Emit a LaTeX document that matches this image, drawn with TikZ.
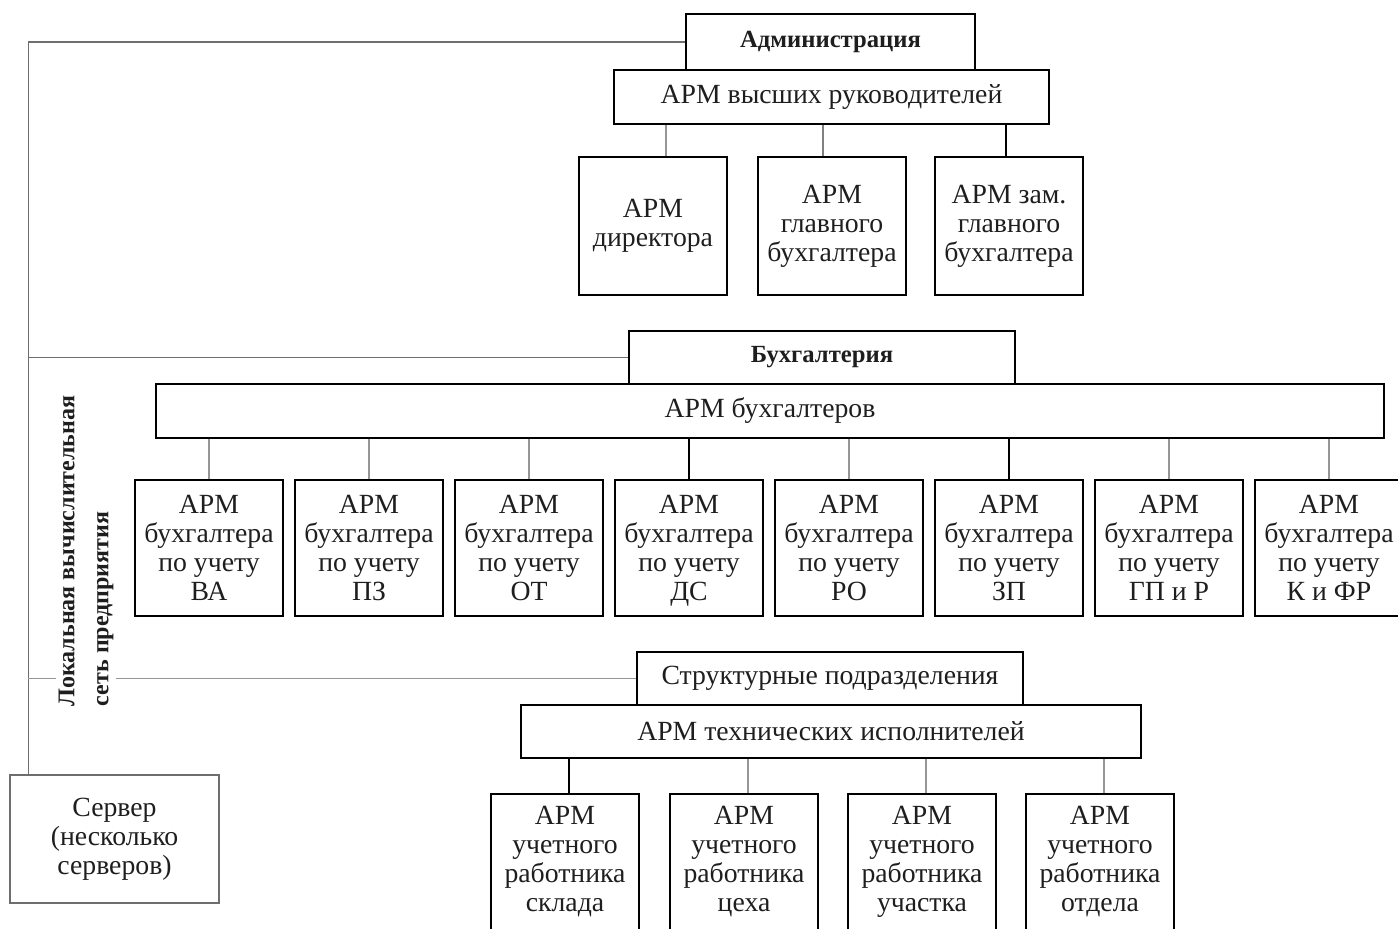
\documentclass[tikz,border=0pt]{standalone}
\usepackage{fontspec}
\setmainfont{Liberation Serif}
\usepackage{xcolor}
\definecolor{schrift}{RGB}{30,30,30}
\definecolor{netzgrau}{RGB}{110,110,110}
\definecolor{liniengrau}{RGB}{150,150,150}

\begin{document}
\begin{tikzpicture}[x=0.75pt, y=-0.75pt,
    box/.style={draw, line width=1.2pt, inner sep=1pt, align=center, text=schrift,
        font=\fontsize{20.8pt}{21.75pt}\selectfont},
    kopf/.style={box, font=\fontsize{18.5pt}{21pt}\selectfont\bfseries},
    arm/.style={box, minimum width=111pt, minimum height=102pt},
    verb/.style={line width=1pt},
    netz/.style={line width=1pt, netzgrau}]
        % Bildausschnitt
        \clip (0,0) rectangle (1398,928);

        % Administration
        \node[kopf, minimum width=216.75pt, minimum height=42pt] (admin) at (830.5,42) {Администрация};
        \node[box, minimum width=326.25pt, minimum height=40.5pt] (hoch) at (831.5,97) {АРМ высших руководителей};
        \node[arm, minimum height=103.5pt] (dir) at (653,226) {АРМ\\директора};
        \node[arm, minimum height=103.5pt] (glbuh) at (832,226) {АРМ\\главного\\бухгалтера};
        \node[arm, minimum height=103.5pt] (zam) at (1009,226) {АРМ зам.\\главного\\бухгалтера};
        \draw[verb, liniengrau] ([xshift=9.75pt]dir.north) -- ([xshift=9.75pt]dir.north |- hoch.south);
        \draw[verb, gray] ([xshift=-6.75pt]glbuh.north) -- ([xshift=-6.75pt]glbuh.north |- hoch.south);
        \draw[verb, black] ([xshift=-2.25pt]zam.north) -- ([xshift=-2.25pt]zam.north |- hoch.south);

        % Buchhaltung
        \node[kopf, minimum width=289.5pt, minimum height=39.75pt] (buh) at (822,357.5) {Бухгалтерия};
        \node[box, minimum width=921pt, minimum height=40.5pt] (buhs) at (770,411) {АРМ бухгалтеров};
        \foreach \i/\k/\f in {1/ВА/liniengrau, 2/ПЗ/liniengrau, 3/ОТ/liniengrau, 4/ДС/black,
                              5/РО/liniengrau, 6/ЗП/black, 7/ГП и Р/liniengrau, 8/К и ФР/liniengrau} {
            \node[arm] (b\i) at (49+160*\i,548) {АРМ\\бухгалтера\\по учету\\\smash{\k}};
            \draw[verb, \f] (b\i.north) -- (b\i.north |- buhs.south);
        }

        % Strukturabteilungen
        \node[box, minimum width=289.5pt, minimum height=39.75pt] (str) at (830,678.5) {Структурные подразделения};
        \node[box, minimum width=465pt, minimum height=39.75pt] (tech) at (831,731.5) {АРМ технических исполнителей};
        \foreach \i/\x/\w/\f in {1/565/склада/black, 2/744/цеха/liniengrau,
                                 3/922/участка/liniengrau, 4/1100/отдела/liniengrau} {
            \node[arm] (w\i) at (\x,862) {АРМ\\учетного\\работника\\\w};
            \draw[verb, \f] ([xshift=3pt]w\i.north) -- ([xshift=3pt]w\i.north |- tech.south);
        }

        % Server und Netz
        \node[box, draw=netzgrau, minimum width=156.75pt, minimum height=96pt] (srv) at (114.5,839) {Сервер\\(несколько\\серверов)};
        \coordinate (lan) at ([xshift=14.25pt]srv.north west);
        \draw[netz] (admin.west) -| (lan);
        \draw[netz] (buh.west) -- (buh.west -| lan);
        \draw[netz, liniengrau] (str.west) -- (str.west -| lan);
        \node[rotate=90, anchor=west, fill=white, align=left, inner sep=2pt, text=schrift,
              font=\fontsize{18pt}{25.5pt}\selectfont\bfseries] (lvs) at (86,709) {Локальная вычислительная\\сеть предприятия};
    \end{tikzpicture}
\end{document}
